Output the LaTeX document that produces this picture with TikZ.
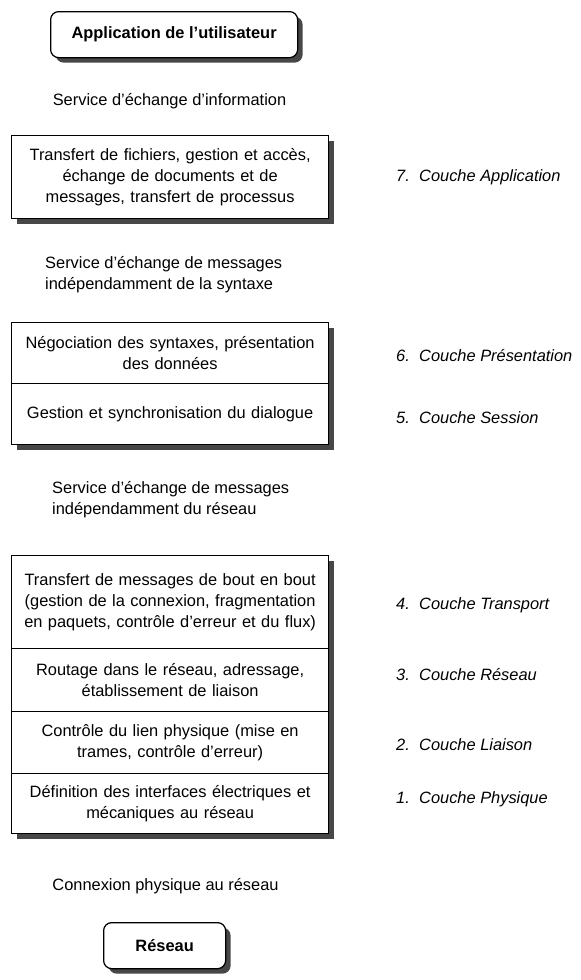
\documentclass[tikz,border=0pt]{standalone}
\usepackage{fontspec}
\setmainfont{Liberation Sans}
\usetikzlibrary{shadows}
\begin{document}
\begin{tikzpicture}[x=1pt,y=-1pt,
  every node/.style={font=\fontsize{16.4}{20.7}\selectfont},
  shade/.style={drop shadow={shadow xshift=5pt,shadow yshift=-5pt,fill=black!72,opacity=1}},
  layer/.style={draw, line width=1.25pt, fill=white, shade, minimum width=317pt,
    text width=310pt, align=center, inner sep=0pt, anchor=north west},
  endpoint/.style={draw, line width=1.25pt, fill=white, rounded corners=8pt, shade,
    font=\bfseries\fontsize{16.4}{20}\selectfont, inner sep=0pt, anchor=north west},
  service/.style={align=left, anchor=west, inner sep=0pt},
  couche/.style={anchor=west, inner sep=0pt, font=\itshape\fontsize{16.4}{20}\selectfont}]

\useasboundingbox (0,0) rectangle (581,980);

% user application at the top
\node[endpoint, minimum width=247pt, minimum height=46pt] (app) at (50,11)
  {Application de l’utilisateur};

\node[inner sep=0pt] (s1) at (169.5,101) {Service d’échange d’information};

% layer 7
\node[layer, minimum height=83pt] (l7) at (11,135)
  {Transfert de fichiers, gestion et accès,\\ échange de documents et de\\ messages, transfert de processus};

\node[service] (s2) at (45,274.5)
  {Service d’échange de messages\\ indépendamment de la syntaxe};

% layers 6 and 5
\node[layer, minimum height=61pt] (l6) at (11,322)
  {Négociation des syntaxes, présentation\\ des données};
\node[layer, minimum height=61pt] (l5) at (11,383)
  {Gestion et synchronisation du dialogue};

\node[service] (s3) at (52,499.5)
  {Service d’échange de messages\\ indépendamment du réseau};

% layers 4 to 1
\node[layer, minimum height=93pt] (l4) at (11,555)
  {Transfert de messages de bout en bout\\ (gestion de la connexion, fragmentation\\ en paquets, contrôle d’erreur et du flux)};
\node[layer, minimum height=63pt] (l3) at (11,648)
  {Routage dans le réseau, adressage,\\ établissement de liaison};
\node[layer, minimum height=62pt] (l2) at (11,711)
  {Contrôle du lien physique (mise en\\ trames, contrôle d’erreur)};
\node[layer, minimum height=60pt] (l1) at (11,773)
  {Définition des interfaces électriques et\\ mécaniques au réseau};

\node[inner sep=0pt] (s4) at (165.5,886) {Connexion physique au réseau};

% network at the bottom
\node[endpoint, minimum width=122pt, minimum height=46pt] (net) at (103,922) {Réseau};

% layer names
\node[couche] (c7) at (396,177) {\makebox[23pt][l]{7.}Couche Application};
\node[couche] (c6) at (396,356) {\makebox[23pt][l]{6.}Couche Présentation};
\node[couche] (c5) at (396,418) {\makebox[23pt][l]{5.}Couche Session};
\node[couche] (c4) at (396,605) {\makebox[23pt][l]{4.}Couche Transport};
\node[couche] (c3) at (396,675) {\makebox[23pt][l]{3.}Couche Réseau};
\node[couche] (c2) at (396,745) {\makebox[23pt][l]{2.}Couche Liaison};
\node[couche] (c1) at (396,799) {\makebox[23pt][l]{1.}Couche Physique};
\end{tikzpicture}
\end{document}
